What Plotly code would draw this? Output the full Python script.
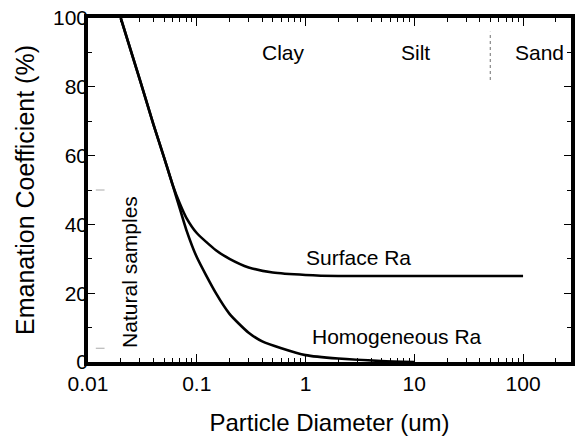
import numpy as np
import plotly.graph_objects as go

# ---- data ----
homog_x = [0.02, 0.03, 0.04, 0.05, 0.06, 0.07, 0.08, 0.1, 0.15, 0.2, 0.3, 0.4, 0.6, 1.0, 2.0, 5.0, 10.0]
homog_y = [100, 82, 69, 59.5, 51.5, 44.5, 38.5, 30.5, 20, 14, 8.5, 6, 4, 2, 1, 0.3, 0]

surf_x = [0.02, 0.03, 0.04, 0.05, 0.06, 0.07, 0.08, 0.1, 0.15, 0.2, 0.3, 0.5, 1.0, 2.0, 100.0]
surf_y = [100, 82, 69, 59.5, 51.5, 46, 42, 37.5, 32.5, 30, 27.5, 26, 25.3, 25, 25]

x_tickvals = [0.01, 0.1, 1, 10, 100]
x_ticktext = ["0.01", "0.1", "1", "10", "100"]
y_tickvals = [0, 20, 40, 60, 80, 100]

size_classes = ["Clay", "Silt", "Sand"]
size_class_x = [0.63, 10.2, 143]
silt_sand_boundary = 50

FONT = "Liberation Sans, Arial, sans-serif"

fig = go.Figure()
fig.add_trace(go.Scatter(x=surf_x, y=surf_y, mode="lines", line=dict(color="black", width=2.6, shape="spline", smoothing=0.6), showlegend=False))
fig.add_trace(go.Scatter(x=homog_x, y=homog_y, mode="lines", line=dict(color="black", width=2.6, shape="spline", smoothing=0.6), showlegend=False))

minor_vals = [m * 10.0**e for e in range(-2, 3) for m in range(2, 10) if m * 10.0**e < 280]

for name, xv in zip(size_classes, size_class_x):
    fig.add_annotation(x=np.log10(xv), y=90, text=name, showarrow=False, font=dict(size=21, color="black", family=FONT))

fig.add_annotation(x=np.log10(3.1), y=30.5, text="Surface Ra", showarrow=False, font=dict(size=21, color="black", family=FONT))
fig.add_annotation(x=np.log10(7.0), y=7.5, text="Homogeneous Ra", showarrow=False, font=dict(size=21, color="black", family=FONT))
fig.add_annotation(x=np.log10(0.024), y=26.3, text="Natural samples", textangle=-90, showarrow=False, font=dict(size=21, color="black", family=FONT))

fig.add_shape(type="line", x0=silt_sand_boundary, x1=silt_sand_boundary, y0=82, y1=96, line=dict(color="#888", width=1.2, dash="dot"))
fig.add_shape(type="line", x0=0.0118, x1=0.0142, y0=50, y1=50, line=dict(color="#aaa", width=1, dash="dash"))
fig.add_shape(type="line", x0=0.0118, x1=0.0142, y0=4, y1=4, line=dict(color="#aaa", width=1, dash="dash"))

fig.update_xaxes(type="log", range=[-2, np.log10(276)], automargin=False,
                 tickvals=x_tickvals, ticktext=x_ticktext,
                 ticks="inside", ticklen=8, tickwidth=1.2, tickcolor="black",
                 minor=dict(tickvals=minor_vals, ticks="inside", ticklen=4, tickcolor="black", tickwidth=1),
                 showline=True, linewidth=3.5, linecolor="black", mirror="ticks",
                 showgrid=False, zeroline=False,
                 tickfont=dict(size=21, color="black", family=FONT),
                 title=dict(text="Particle Diameter (um)", font=dict(size=24, color="black", family=FONT), standoff=22))
fig.update_yaxes(range=[0, 100], tickvals=y_tickvals, automargin=False,
                 ticks="inside", ticklen=7, tickwidth=1.2, tickcolor="black",
                 minor=dict(dtick=10, ticks="inside", ticklen=4, tickcolor="black", tickwidth=1),
                 showline=True, linewidth=3.5, linecolor="black", mirror="ticks",
                 showgrid=False, zeroline=False, ticklabelstandoff=-8,
                 tickfont=dict(size=21, color="black", family=FONT),
                 title=dict(text="Emanation Coefficient (%)", font=dict(size=25, color="black", family=FONT), standoff=12))

fig.update_layout(width=576, height=436, margin=dict(l=88, r=5, t=18, b=74),
                  plot_bgcolor="white", paper_bgcolor="white", font=dict(family=FONT, color="black"))

fig.write_html("out.html")
